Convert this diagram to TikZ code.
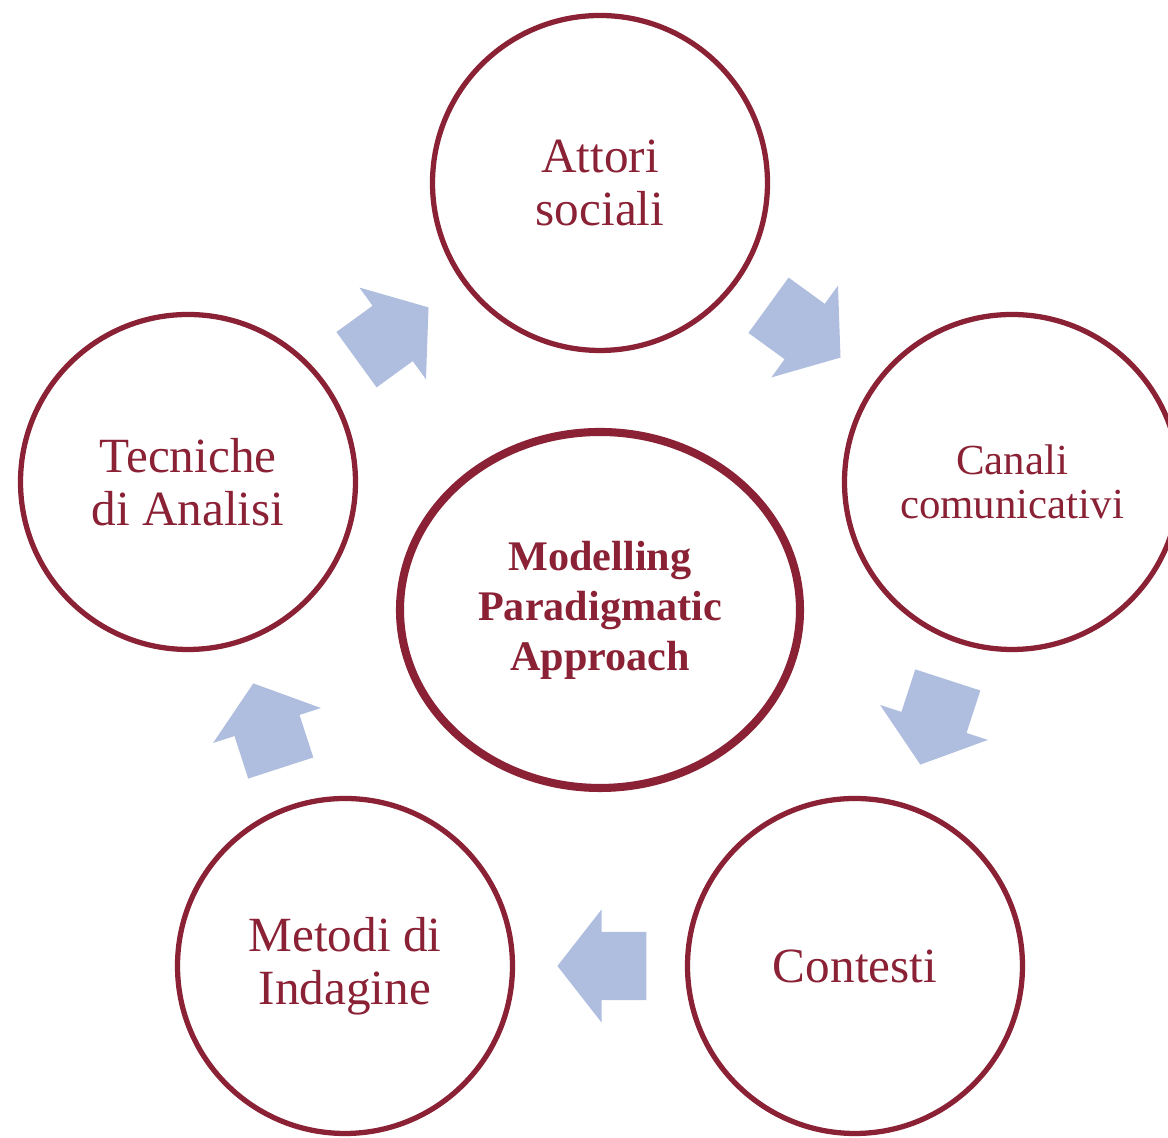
\documentclass[tikz,border=0pt]{standalone}
\usepackage{fontspec}
\setmainfont{Liberation Serif}
\usepackage{xcolor}
\usepackage{tikz}
\usetikzlibrary{shapes,arrows,positioning,calc}
\definecolor{rosso}{HTML}{8A2135}
\definecolor{azzurro}{HTML}{AFBDDF}

\begin{document}
\begin{tikzpicture}[
    cerchio/.style={draw=rosso, line width=1.5pt, circle, minimum size=3.35cm, inner sep=0pt, align=center, text=rosso, font=\fontsize{14}{15}\selectfont},
    centro/.style={draw=rosso, line width=2.3pt, ellipse, minimum width=4cm, minimum height=3.56cm, inner sep=0pt, align=center, text=rosso, font=\bfseries\fontsize{12}{14.2}\selectfont},
    freccia/.style={single arrow, fill=azzurro, draw=none, minimum height=0.89cm, minimum width=1.12cm, single arrow head extend=0.225cm, single arrow tip angle=104, inner xsep=0pt, inner ysep=0.335cm, sloped, allow upside down, pos=0.41}
]
\useasboundingbox (0,0) rectangle (11.68,11.38);
% Centro
\node[centro] (mpa) at (6,5.28) {Modelling\\Paradigmatic\\Approach};

% Cerchi attorno
\node[cerchio] (att) at (6,9.55) {Attori\\sociali};
\node[cerchio, font=\fontsize{12.2}{12.5}\selectfont] (can) at (10.12,6.56) {Canali\\comunicativi};
\node[cerchio] (con) at (8.55,1.72) {Contesti};
\node[cerchio] (met) at (3.45,1.72) {Metodi di\\Indagine};
\node[cerchio] (tec) at (1.88,6.56) {Tecniche\\di Analisi};

% Frecce
\path (tec) -- (att) node[freccia] (f1) {};
\path (att) -- (can) node[freccia] (f2) {};
\path (can) -- (con) node[freccia] (f3) {};
\path (con) -- (met) node[freccia] (f4) {};
\path (met) -- (tec) node[freccia] (f5) {};
\end{tikzpicture}
\end{document}
